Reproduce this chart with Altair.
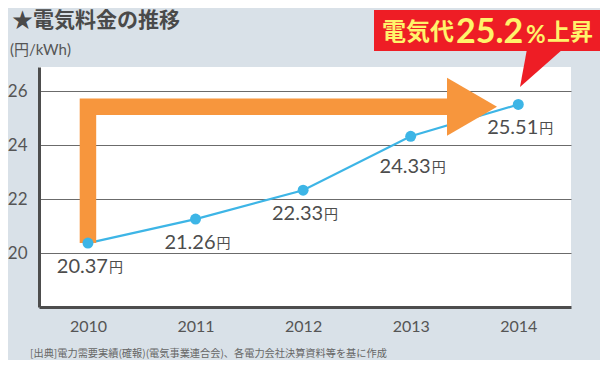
import altair as alt
import pandas as pd

years = [2010, 2011, 2012, 2013, 2014]
prices = [20.37, 21.26, 22.33, 24.33, 25.51]
price_labels = ["20.37", "21.26", "22.33", "24.33", "25.51"]
y_ticks = [20, 22, 24, 26]

# orange arrow (data space)
arrow_x = [2010, 2010, 2013.34]
arrow_y = [20.37, 25.43, 25.43]
arrow_head_x = [2013.57]
arrow_head_y = [25.43]

title_text = "★電気料金の推移"
unit_text = "(円/kWh)"
source_text = "[出典]電力需要実績(確報)(電気事業連合会)、各電力会社決算資料等を基に作成"
callout_parts = ["電気代", "25.2", "%", "上昇"]

BG = "#d9e1e8"
ORANGE = "#f7963d"
BLUE = "#3db5e6"
RED = "#ee1d25"
YELLOW = "#fff36b"
TEXT = "#4d4d4d"
FONT = "Lato, 'Noto Sans CJK JP', sans-serif"
JFONT = "'Noto Sans CJK JP', sans-serif"

df = pd.DataFrame({"x": years, "y": prices, "label": price_labels})
arrow_df = pd.DataFrame({"x": arrow_x, "y": arrow_y, "i": list(range(len(arrow_x)))})
head_df = pd.DataFrame({"x": arrow_head_x, "y": arrow_head_y})
one = alt.Data(values=[{}])

xs = alt.Scale(domain=[2009.545, 2014.49], nice=False, zero=False)
ys = alt.Scale(domain=[18, 26.9], nice=False, zero=False)

X = alt.X("x:Q", scale=xs, axis=alt.Axis(values=years, format="d", title=None, grid=False,
          ticks=False, labelFontSize=16, labelColor="#555", labelPadding=11, labelFont=FONT,
          domainColor="#4d4d4d", domainWidth=3))
Y = alt.Y("y:Q", scale=ys, axis=alt.Axis(values=y_ticks, title=None, grid=True, gridColor="#6b6b6b",
          gridWidth=1.2, ticks=False, labelFontSize=17, labelColor="#555", labelPadding=12,
          labelFont=FONT, domainColor="#4d4d4d", domainWidth=3))

line = alt.Chart(df).mark_line(color=BLUE, strokeWidth=2.2).encode(x=X, y=Y)

arrow = alt.Chart(arrow_df).mark_line(color=ORANGE, strokeWidth=16.5, strokeCap="butt",
                                      strokeJoin="miter").encode(x=X, y=Y, order=alt.Order("i:Q"))
head = alt.Chart(head_df).mark_point(shape="M-1,-1.16L1,0L-1,1.16Z", size=2500, filled=True,
                                     color=ORANGE, opacity=1, strokeWidth=0).encode(x=X, y=Y)

dots = alt.Chart(df).mark_circle(size=120, color=BLUE, opacity=1).encode(x=X, y=Y)

lab_main = alt.Chart(df).transform_filter("datum.x != 2013")
lab_2013 = alt.Chart(df).transform_filter("datum.x == 2013")

def labels(base, dy):
    num = base.mark_text(align="right", baseline="middle", dx=20, dy=dy, fontSize=20,
                         font=FONT, color=TEXT).encode(x=X, y=Y, text="label:N")
    yen = base.mark_text(align="left", baseline="middle", dx=21, dy=dy + 1, fontSize=14,
                         font=JFONT, color=TEXT).encode(x=X, y=Y, text=alt.value("円"))
    return [num, yen]

# callout
box = alt.Chart(one).mark_rect(color=RED).encode(
    x=alt.value(335), x2=alt.value(565), y=alt.value(-57), y2=alt.value(-16))
pointer = alt.Chart(one).mark_point(shape="M-0.674,-0.884L1,-0.884L-1,0.884Z", size=1849,
                                    filled=True, color=RED, opacity=1, strokeWidth=0).encode(
    x=alt.value(502.5), y=alt.value(1))
c1 = alt.Chart(one).mark_text(align="left", baseline="alphabetic", fontSize=24, fontWeight="bold",
                              font=JFONT, color=YELLOW).encode(
    x=alt.value(343), y=alt.value(-27), text=alt.value(callout_parts[0]))
c2 = alt.Chart(one).mark_text(align="left", baseline="alphabetic", fontSize=34, fontWeight="bold",
                              font=FONT, color=YELLOW).encode(
    x=alt.value(417), y=alt.value(-24), text=alt.value(callout_parts[1]))
c3 = alt.Chart(one).mark_text(align="left", baseline="alphabetic", fontSize=24, fontWeight="bold",
                              font=FONT, color=YELLOW).encode(
    x=alt.value(487), y=alt.value(-24), text=alt.value(callout_parts[2]))
c4 = alt.Chart(one).mark_text(align="left", baseline="alphabetic", fontSize=23, fontWeight="bold",
                              font=JFONT, color=YELLOW).encode(
    x=alt.value(508), y=alt.value(-27), text=alt.value(callout_parts[3]))

title = alt.Chart(one).mark_text(align="left", baseline="middle", fontSize=21, fontWeight="bold",
                                 font=JFONT, color="#4a4a4a").encode(
    x=alt.value(-27), y=alt.value(-46), text=alt.value(title_text))
unit = alt.Chart(one).mark_text(align="left", baseline="middle", fontSize=15,
                                font=FONT, color="#555").encode(
    x=alt.value(-29), y=alt.value(-17), text=alt.value(unit_text))
source = alt.Chart(one).mark_text(align="left", baseline="middle", fontSize=10.2,
                                  font=JFONT, color="#666").encode(
    x=alt.value(-9), y=alt.value(287), text=alt.value(source_text))

chart = alt.layer(
    line, arrow, head, dots, *labels(lab_main, 24), *labels(lab_2013, 31),
    box, pointer, c1, c2, c3, c4, title, unit, source
).properties(
    width=532, height=240,
    autosize=alt.AutoSizeParams(type="none"),
    padding={"left": 31, "top": 59, "right": 29, "bottom": 53},
).configure(background=BG).configure_view(fill="white", stroke=None)

chart.save("out.html", embed_options={"renderer": "svg", "actions": False})
